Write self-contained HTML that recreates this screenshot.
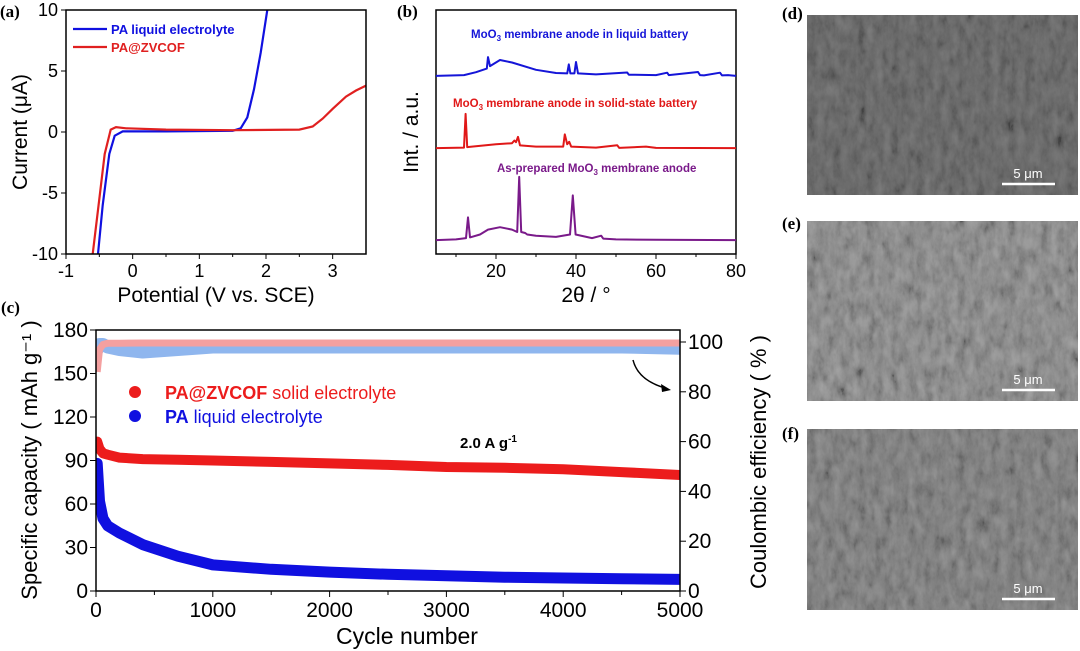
<!DOCTYPE html>
<html><head><meta charset="utf-8"><style>
body{margin:0;background:#fff;width:1080px;height:651px;overflow:hidden}
svg{position:absolute;left:0;top:0}
text{font-family:"Liberation Sans",sans-serif}
.lbl{font-family:"Liberation Serif",serif;font-weight:bold;font-size:17px}
</style></head><body>
<svg id="fig" width="1080" height="651" viewBox="0 0 1080 651">
<defs>
<filter id="sem" x="0" y="0" width="100%" height="100%">
<feTurbulence type="fractalNoise" baseFrequency="0.12 0.06" numOctaves="4" seed="3"/>
<feColorMatrix type="matrix" values="0.33 0.33 0.33 0 0  0.33 0.33 0.33 0 0  0.33 0.33 0.33 0 0  0 0 0 0 1"/>
<feComponentTransfer><feFuncR type="linear" slope="2" intercept="-0.5"/><feFuncG type="linear" slope="2" intercept="-0.5"/><feFuncB type="linear" slope="2" intercept="-0.5"/></feComponentTransfer>
</filter>
</defs>
<g id="ga"></g>
<g id="gb"></g>
<g id="gc"></g>
<g id="gs"></g>
</svg>
<script>
// ---- Panel (a) data ----
const aBlueX=[-0.52,-0.45,-0.35,-0.27,-0.15,0.5,1.5,1.62,1.72,1.82,1.92,2.02];
const aBlueY=[-10,-6,-1.8,-0.3,0.05,0.05,0.1,0.3,1.2,3.5,6.5,10];
const aRedX=[-0.6,-0.5,-0.42,-0.33,-0.25,-0.1,0.5,1.5,2.5,2.7,2.85,3.0,3.2,3.35,3.5];
const aRedY=[-10,-5.5,-1.8,0.2,0.4,0.3,0.2,0.15,0.2,0.45,1.1,1.9,2.9,3.4,3.8];
const aXTicks=[-1,0,1,2,3];
const aYTicks=[-10,-5,0,5,10];
// ---- Panel (b) data ----
const bPurpleX=[5,10,12.5,13,13.5,16,18,21,24,25.3,25.8,26.3,27.3,27.8,30,35,38.5,39.2,39.9,44,46.3,46.8,50,60,80];
const bPurpleY=[5.7,6,6.5,15,6.8,8,10,11,10,9,31.6,9,8.6,8,7.5,7,8,24,8,6.5,7.5,6.3,6,5.8,5.7];
const bRedX=[5,12,12.4,12.8,14,20,24,24.6,25,25.5,26,30,36.8,37.2,37.8,38.3,38.8,45,50.3,50.8,57.5,60,80];
const bRedY=[43.4,43.6,57.4,43.8,44,45,45.4,46.5,45.8,48,44.5,44,44,49,45,46,44,43.6,44.6,43.5,44,43.5,43.4];
const bBlueX=[5,12,15,17.7,18,18.5,21,24,30,35,37.8,38.2,38.6,39.6,40,40.5,45,52.8,53.2,60,62.8,63.2,70.5,71,72,76,76.5,78,80];
const bBlueY=[73,73.3,74.5,76,80.7,77,79.5,78.5,75.5,74.2,74,77.7,74,74,78.7,74,73.6,74.4,73.5,73.3,74.3,73.3,74.6,73.3,73.2,74.3,73.2,73.3,73];
const bXTicks=[20,40,60,80];
// ---- Panel (c) data ----
const cCycles=[10,30,60,100,200,400,700,1000,1500,2000,2500,3000,3500,4000,4500,5000];
const cRed=[103,98,95,94,92,91,90.5,90,89,88,87,85.5,85,84,82,80];
const cBlue=[88,62,50,45,40,32,24,18,15,13,11.5,10.5,9.5,9,8.5,8];
const cCEPA=[88,97,99,99.5,99.5,99.6,99.6,99.6,99.6,99.6,99.6,99.6,99.6,99.6,99.6,99.6];
const cCELiq=[97,99,99,98,97,96,97,98,98,98,98,98,98,98,98,97.5];
const cXTicks=[0,1000,2000,3000,4000,5000];
const cYTicks=[0,30,60,90,120,150,180];
const cY2Ticks=[0,20,40,60,80,100];

const NS="http://www.w3.org/2000/svg";
function mk(p,tag,at,txt){const e=document.createElementNS(NS,tag);for(const k in at)e.setAttribute(k,at[k]);if(txt!==undefined)e.textContent=txt;p.appendChild(e);return e;}
function lin(d0,d1,r0,r1){return v=>r0+(v-d0)*(r1-r0)/(d1-d0);}
function pts(X,Y,sx,sy){return X.map((x,i)=>sx(x).toFixed(1)+","+sy(Y[i]).toFixed(1)).join(" ");}

// ===== Panel a =====
const ga=document.getElementById('ga');
const ax=lin(-1,3.5,66,366), ay=lin(-10,10,254,10);
let t=mk(ga,'text',{x:0,y:17,class:'lbl'},'(a)');


let cp=mk(ga,'clipPath',{id:'clipa'});mk(cp,'rect',{x:66,y:10,width:300,height:244});
let l=mk(ga,'polyline',{points:pts(aBlueX,aBlueY,ax,ay),fill:'none',stroke:'#1010e0','stroke-width':2.2,'clip-path':'url(#clipa)'});


l=mk(ga,'polyline',{points:pts(aRedX,aRedY,ax,ay),fill:'none',stroke:'#e02020','stroke-width':2.2,'clip-path':'url(#clipa)'});


mk(ga,'rect',{x:66,y:10,width:300,height:244,fill:'none',stroke:'#000','stroke-width':1.5});
aXTicks.forEach(v=>{mk(ga,'line',{x1:ax(v),x2:ax(v),y1:254,y2:259,stroke:'#000'});
 t=mk(ga,'text',{x:ax(v),y:277,'font-size':18,'text-anchor':'middle'},String(v));
 
 });
[-0.5,0.5,1.5,2.5].forEach(v=>mk(ga,'line',{x1:ax(v),x2:ax(v),y1:254,y2:257,stroke:'#000'}));
aYTicks.forEach(v=>{mk(ga,'line',{x1:61,x2:66,y1:ay(v),y2:ay(v),stroke:'#000'});
 t=mk(ga,'text',{x:58,y:ay(v)+6,'font-size':18,'text-anchor':'end'},String(v));
 
 });
t=mk(ga,'text',{x:216,y:302,'font-size':21,'text-anchor':'middle'},'Potential (V vs. SCE)');


t=mk(ga,'text',{x:0,y:0,'font-size':21,'text-anchor':'middle',transform:'translate(27,132) rotate(-90)'},'Current (μA)');


mk(ga,'line',{x1:73,x2:107,y1:29,y2:29,stroke:'#1010e0','stroke-width':2.2});
t=mk(ga,'text',{x:111,y:34,'font-size':13,'font-weight':'bold',fill:'#1010e0'},'PA liquid electrolyte');


mk(ga,'line',{x1:73,x2:107,y1:47,y2:47,stroke:'#e02020','stroke-width':2.2});
t=mk(ga,'text',{x:111,y:52,'font-size':13,'font-weight':'bold',fill:'#e02020'},'PA@ZVCOF');



// ===== Panel b =====
const gb=document.getElementById('gb');
const bx=lin(5,80,436,736), by=lin(0,100,254,10);
t=mk(gb,'text',{x:397,y:17,class:'lbl'},'(b)');


mk(gb,'rect',{x:436,y:10,width:300,height:244,fill:'none',stroke:'#000','stroke-width':1.5});
[[bBlueX,bBlueY,'#1515d8','xrd-liquid-battery'],[bRedX,bRedY,'#e01818','xrd-solid-state-battery'],[bPurpleX,bPurpleY,'#7a1a8a','xrd-as-prepared']].forEach(s=>{
 l=mk(gb,'polyline',{points:pts(s[0],s[1],bx,by),fill:'none',stroke:s[2],'stroke-width':2,'stroke-linejoin':'round'});
 
 });
bXTicks.forEach(v=>{mk(gb,'line',{x1:bx(v),x2:bx(v),y1:254,y2:259,stroke:'#000'});
 t=mk(gb,'text',{x:bx(v),y:277,'font-size':18,'text-anchor':'middle'},String(v));
 
 });
[10,30,50,70].forEach(v=>mk(gb,'line',{x1:bx(v),x2:bx(v),y1:254,y2:257,stroke:'#000'}));
t=mk(gb,'text',{x:586,y:302,'font-size':21,'text-anchor':'middle'},'2θ / °');


t=mk(gb,'text',{x:0,y:0,'font-size':21,'text-anchor':'middle',transform:'translate(418,132) rotate(-90)'},'Int. / a.u.');


function mlabel(x,y,col,pre,post,name){const e=mk(gb,'text',{x:x,y:y,'font-size':11.5,'font-weight':'bold',fill:col});
 
 
 mk(e,'tspan',{},pre);mk(e,'tspan',{dy:3,'font-size':8},'3');mk(e,'tspan',{dy:-3},post);}
mlabel(471,38,'#1515d8','MoO',' membrane anode in liquid battery','label-liquid-battery');
mlabel(453,107,'#e01818','MoO',' membrane anode in solid-state battery','label-solid-state');
mlabel(497,172,'#7a1a8a','As-prepared MoO',' membrane anode','label-as-prepared');

// ===== Panel c =====
const gc=document.getElementById('gc');
const cx=lin(0,5000,96,680), cy=lin(0,180,591,330), cy2=lin(0,100,591,342);
t=mk(gc,'text',{x:1,y:313,class:'lbl'},'(c)');


cp=mk(gc,'clipPath',{id:'clipc'});mk(cp,'rect',{x:96,y:330,width:584,height:261});
l=mk(gc,'polyline',{points:pts(cCycles,cCELiq,cx,cy2),fill:'none',stroke:'#8fb6ee','stroke-width':13,'stroke-linejoin':'round','stroke-linecap':'round','clip-path':'url(#clipc)'});


l=mk(gc,'polyline',{points:pts(cCycles,cCEPA,cx,cy2),fill:'none',stroke:'#f4a0a0','stroke-width':7,'stroke-linejoin':'round','clip-path':'url(#clipc)'});


l=mk(gc,'polyline',{points:pts(cCycles,cBlue,cx,cy),fill:'none',stroke:'#1010e0','stroke-width':11,'stroke-linejoin':'round','stroke-linecap':'round','clip-path':'url(#clipc)'});


l=mk(gc,'polyline',{points:pts(cCycles,cRed,cx,cy),fill:'none',stroke:'#ec1c1c','stroke-width':10,'stroke-linejoin':'round','stroke-linecap':'round','clip-path':'url(#clipc)'});


mk(gc,'rect',{x:96,y:330,width:584,height:261,fill:'none',stroke:'#000','stroke-width':1.5});
cXTicks.forEach(v=>{mk(gc,'line',{x1:cx(v),x2:cx(v),y1:591,y2:597,stroke:'#000'});
 t=mk(gc,'text',{x:cx(v),y:617,'font-size':21,'text-anchor':'middle'},String(v));
 
 });
[500,1500,2500,3500,4500].forEach(v=>mk(gc,'line',{x1:cx(v),x2:cx(v),y1:591,y2:595,stroke:'#000'}));
cYTicks.forEach(v=>{mk(gc,'line',{x1:90,x2:96,y1:cy(v),y2:cy(v),stroke:'#000'});
 t=mk(gc,'text',{x:88,y:cy(v)+7,'font-size':21,'text-anchor':'end'},String(v));
 
 });
cY2Ticks.forEach(v=>{mk(gc,'line',{x1:680,x2:686,y1:cy2(v),y2:cy2(v),stroke:'#000'});
 t=mk(gc,'text',{x:688,y:cy2(v)+7,'font-size':21},String(v));
 
 });
t=mk(gc,'text',{x:407,y:644,'font-size':23,'text-anchor':'middle'},'Cycle number');


t=mk(gc,'text',{x:0,y:0,'font-size':22,'text-anchor':'middle',transform:'translate(37,460) rotate(-90)'},'Specific capacity ( mAh g⁻¹ )');


t=mk(gc,'text',{x:0,y:0,'font-size':22,'text-anchor':'middle',transform:'translate(766,462) rotate(-90)'},'Coulombic efficiency ( % )');


mk(gc,'circle',{cx:135,cy:392,r:6,fill:'#ec1c1c'});
t=mk(gc,'text',{x:165,y:399,'font-size':18,fill:'#ec1c1c'});


mk(t,'tspan',{'font-weight':'bold'},'PA@ZVCOF');mk(t,'tspan',{},' solid electrolyte');
mk(gc,'circle',{cx:135,cy:416,r:6,fill:'#1010e0'});
t=mk(gc,'text',{x:165,y:423,'font-size':18,fill:'#1010e0'});


mk(t,'tspan',{'font-weight':'bold'},'PA');mk(t,'tspan',{},' liquid electrolyte');
t=mk(gc,'text',{x:460,y:448,'font-size':15,'font-weight':'bold'});


mk(t,'tspan',{},'2.0 A g');mk(t,'tspan',{dy:-6,'font-size':10},'-1');
l=mk(gc,'path',{d:'M633,360 Q638,380 665,388',fill:'none',stroke:'#000','stroke-width':1.5});


mk(gc,'path',{d:'M671,390 L661,384 L662,392 Z',fill:'#000'});

// ===== SEM panels =====
const gs=document.getElementById('gs');
const sem=[['(d)',5,807,15,271,180,'#5e5e5e','sem-image-d'],['(e)',215,807,221,271,180,'#7c7c7c','sem-image-e'],['(f)',425,807,429,271,181,'#727272','sem-image-f']];
sem.forEach((s,i)=>{
 t=mk(gs,'text',{x:782,y:s[1]+14,class:'lbl'},s[0]);
 
 
 const g=mk(gs,'g',{});
 
 
 mk(g,'rect',{x:s[2],y:s[3],width:s[4],height:s[5],fill:s[6]});
 mk(g,'rect',{x:s[2],y:s[3],width:s[4],height:s[5],filter:'url(#sem)',opacity:0.3,style:'mix-blend-mode:overlay'});
 mk(g,'line',{x1:1002,x2:1055,y1:s[3]+s[5]-11,y2:s[3]+s[5]-11,stroke:'#fff','stroke-width':2.5});
 const tt=mk(g,'text',{x:1028,y:s[3]+s[5]-17,'font-size':13,fill:'#fff','text-anchor':'middle'},'5 μm');
 
 
});
</script>
</body></html>
